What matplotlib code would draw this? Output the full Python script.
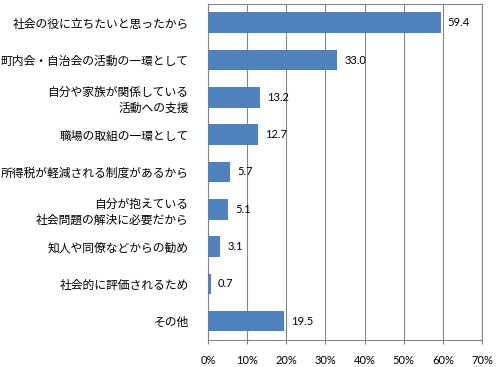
import matplotlib
matplotlib.use("Agg")
import matplotlib.pyplot as plt

plt.rcParams['font.family'] = ['Noto Sans CJK JP', 'DejaVu Sans']

categories = [
    '社会の役に立ちたいと思ったから',
    '町内会・自治会の活動の一環として',
    '自分や家族が関係している\n活動への支援',
    '職場の取組の一環として',
    '所得税が軽減される制度があるから',
    '自分が抱えている\n社会問題の解決に必要だから',
    '知人や同僚などからの勧め',
    '社会的に評価されるため',
    'その他',
]
values = [59.4, 33.0, 13.2, 12.7, 5.7, 5.1, 3.1, 0.7, 19.5]
xticks = [0, 10, 20, 30, 40, 50, 60, 70]

fig = plt.figure(figsize=(5.0, 3.67), dpi=100)
ax = fig.add_axes([0.416, 0.074, 0.548, 0.915])

ypos = list(range(len(categories)))
ax.barh(ypos, values, height=0.55, color='#4F81BD', zorder=3)
for y, v in zip(ypos, values):
    ax.text(v + 1.8, y, '{:.1f}'.format(v), va='center', ha='left',
            fontsize=8, family='Lato', zorder=4)

ax.set_xlim(0, 70)
ax.set_ylim(len(categories) - 0.5, -0.5)
ax.set_xticks(xticks)
ax.set_xticklabels(['{}%'.format(t) for t in xticks], family='Lato', fontsize=8)
ax.set_yticks(ypos)
ax.set_yticklabels(categories, fontsize=8.5, linespacing=1.3)
ax.tick_params(axis='y', length=0, pad=14)
ax.tick_params(axis='x', length=3, color='#868686', pad=8)
ax.grid(axis='x', color='#868686', linewidth=0.8, zorder=0)
for s in ax.spines.values():
    s.set_color('#868686')
    s.set_linewidth(0.8)

fig.savefig('out.png', dpi=100)
